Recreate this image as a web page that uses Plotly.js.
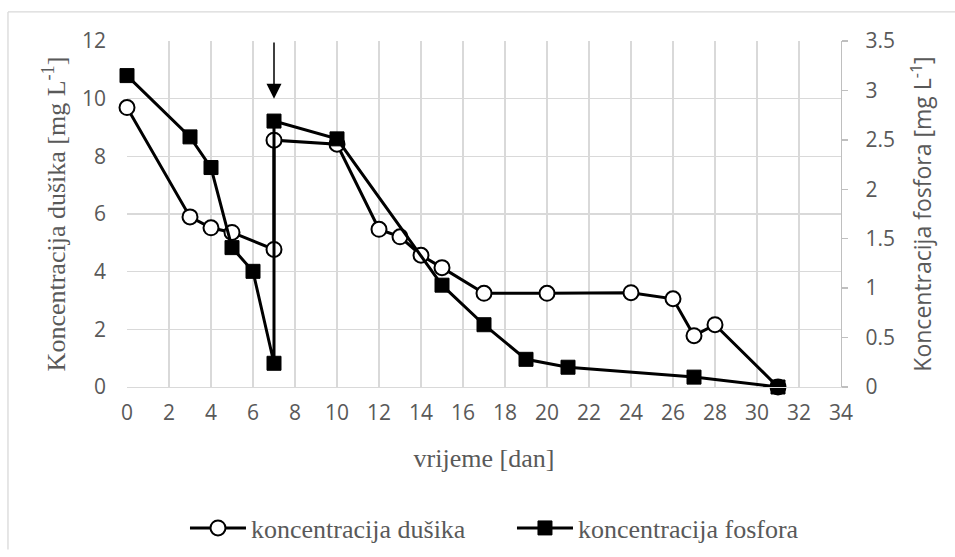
<!DOCTYPE html>
<html>
<head>
<meta charset="utf-8">
<script src="https://cdn.plot.ly/plotly-3.0.1.min.js"></script>
<style>html,body{margin:0;padding:0;background:#fff;}#chart{width:955px;height:557px;}</style>
</head>
<body>
<div id="chart"></div>
<script>
// Data
const dayN = [0, 3, 4, 5, 7, 7, 10, 12, 13, 14, 15, 17, 20, 24, 26, 27, 28, 31];
const nitrogen = [9.69, 5.90, 5.52, 5.36, 4.77, 8.56, 8.42, 5.47, 5.21, 4.57, 4.14, 3.25, 3.25, 3.27, 3.06, 1.78, 2.16, 0];
const dayP = [0, 3, 4, 5, 6, 7, 7, 10, 15, 17, 19, 21, 27, 31];
const phosphorus = [3.15, 2.53, 2.22, 1.41, 1.17, 0.24, 2.69, 2.51, 1.03, 0.63, 0.28, 0.20, 0.10, 0];
const seriesNames = ["koncentracija dušika", "koncentracija fosfora"];
const xTitle = "vrijeme [dan]";
const yTitleLeft = "Koncentracija dušika [mg L<sup>-1</sup>]";
const yTitleRight = "Koncentracija fosfora [mg L<sup>-1</sup>]";
const arrowDay = 7, arrowFrom = 12, arrowTo = 10;

const grey = "#595959";
const serif = "'Liberation Serif', 'Times New Roman', serif";
const sans = "'Open Sans', sans-serif";

const traces = [
  {
    x: dayN, y: nitrogen, name: seriesNames[0], type: "scatter", mode: "lines+markers",
    yaxis: "y", cliponaxis: false,
    line: {color: "#000", width: 3},
    marker: {symbol: "circle", size: 15, color: "#fff", line: {color: "#000", width: 2}}
  },
  {
    x: dayP, y: phosphorus, name: seriesNames[1], type: "scatter", mode: "lines+markers",
    yaxis: "y2", cliponaxis: false,
    line: {color: "#000", width: 3},
    marker: {symbol: "square", size: 14, color: "#000", line: {color: "#000", width: 1}}
  }
];

const layout = {
  width: 955, height: 557,
  margin: {l: 127, r: 114, t: 41, b: 170, pad: 0},
  paper_bgcolor: "#fff", plot_bgcolor: "#fff",
  font: {family: sans, color: grey, size: 21},
  showlegend: true,
  legend: {
    orientation: "h", xref: "container", yref: "container",
    x: 0.1937, xanchor: "left", y: 0.052, yanchor: "middle",
    font: {family: serif, size: 26, color: grey},
    itemwidth: 56, entrywidth: 256, traceorder: "normal", bgcolor: "rgba(0,0,0,0)"
  },
  xaxis: {
    range: [0, 34], dtick: 2, tick0: 0,
    showgrid: true, gridcolor: "#d9d9d9", gridwidth: 1.3,
    zeroline: false, showline: true, linecolor: "#d9d9d9", linewidth: 1.3,
    ticks: "", ticklabelstandoff: 6,
    tickfont: {family: sans, size: 21, color: grey},
    title: {text: xTitle, font: {family: serif, size: 26, color: grey}, standoff: 24},
    automargin: false
  },
  yaxis: {
    range: [0, 12], dtick: 2, tick0: 0,
    showgrid: true, gridcolor: "#d9d9d9", gridwidth: 1.3,
    zeroline: false, showline: false,
    ticks: "", ticklabelstandoff: 20,
    tickfont: {family: sans, size: 21, color: grey},
    title: {text: yTitleLeft, font: {family: serif, size: 26, color: grey}, standoff: 8},
    automargin: false
  },
  yaxis2: {
    range: [0, 3.5], dtick: 0.5, tick0: 0, overlaying: "y", side: "right",
    showgrid: false, zeroline: false, showline: true, linecolor: "#bfbfbf", linewidth: 1.3,
    ticks: "outside", ticklen: 6, tickcolor: "#bfbfbf", tickwidth: 1.3, ticklabelstandoff: 13,
    tickfont: {family: sans, size: 21, color: grey},
    title: {text: yTitleRight, font: {family: sans, size: 23, color: grey}, standoff: 21},
    automargin: false
  },
  annotations: [
    {
      x: arrowDay, y: arrowTo, xref: "x", yref: "y",
      ax: arrowDay, ay: arrowFrom, axref: "x", ayref: "y",
      text: "", showarrow: true, arrowhead: 2, arrowsize: 2, arrowwidth: 1.5,
      arrowcolor: "#000", standoff: 0, startstandoff: 0
    }
  ],
  shapes: [
    {type: "line", xref: "paper", yref: "paper", x0: -0.1667, x1: -0.1667, y0: 1.084, y1: -0.47,
     line: {color: "#d9d9d9", width: 1.3}, layer: "below"},
    {type: "line", xref: "paper", yref: "paper", x0: -0.1667, x1: 1.17, y0: 1.084, y1: 1.084,
     line: {color: "#d9d9d9", width: 1.3}, layer: "below"}
  ]
};

Plotly.newPlot("chart", traces, layout, {displayModeBar: false, staticPlot: true});
</script>
</body>
</html>
